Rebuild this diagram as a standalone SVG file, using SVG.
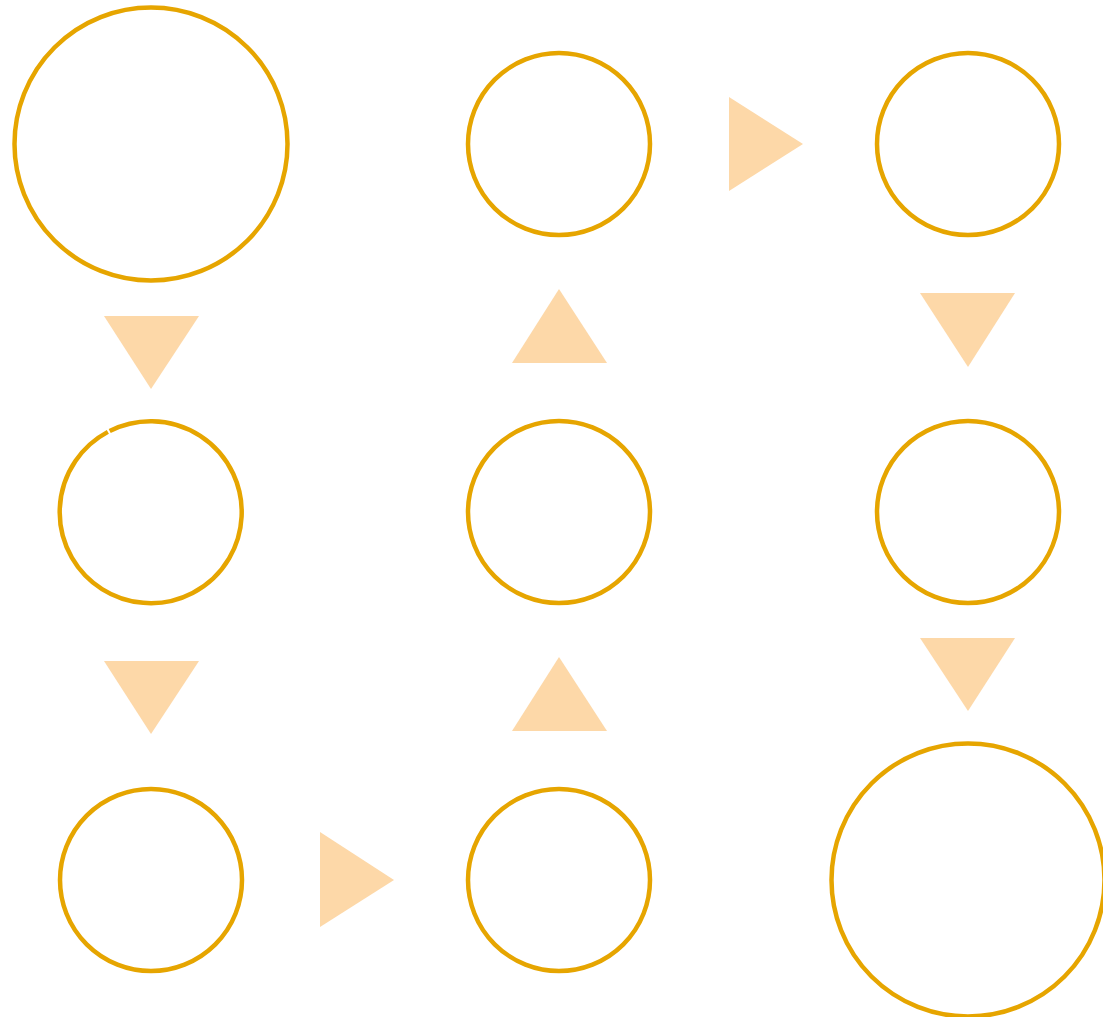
<svg xmlns="http://www.w3.org/2000/svg" width="1103" height="1017" viewBox="0 0 1103 1017">
<style>
.n{fill:none;stroke:#E6A500;stroke-width:4.5}
.a{fill:#FDD8A8;stroke:none}
</style>
<rect width="1103" height="1017" fill="#FFFFFF"/>
<g id="node-tl"><circle class="n" cx="151" cy="144" r="136.5"/></g>
<g id="node-ml"><path class="n" d="M109.69,430.92 A91,91 0 1 1 107.86,431.87"/></g>
<g id="node-bl"><circle class="n" cx="151" cy="880" r="91"/></g>
<g id="node-tc"><circle class="n" cx="559" cy="144" r="91"/></g>
<g id="node-mc"><circle class="n" cx="559" cy="512" r="91"/></g>
<g id="node-bc"><circle class="n" cx="559" cy="880" r="91"/></g>
<g id="node-tr"><circle class="n" cx="968" cy="144" r="91"/></g>
<g id="node-mr"><circle class="n" cx="968" cy="512" r="91"/></g>
<g id="node-br"><circle class="n" cx="968" cy="880" r="136.5"/></g>
<g id="connectors">
<polygon class="a" points="104,316 199,316 151,389"/>
<polygon class="a" points="104,661 199,661 151,734"/>
<polygon class="a" points="320,832 320,927 394,880"/>
<polygon class="a" points="512,731 607,731 559,657"/>
<polygon class="a" points="512,363 607,363 559,289"/>
<polygon class="a" points="729,97 729,191 803,144"/>
<polygon class="a" points="920,293 1015,293 968,367"/>
<polygon class="a" points="920,638 1015,638 968,711"/>
</g>
</svg>
